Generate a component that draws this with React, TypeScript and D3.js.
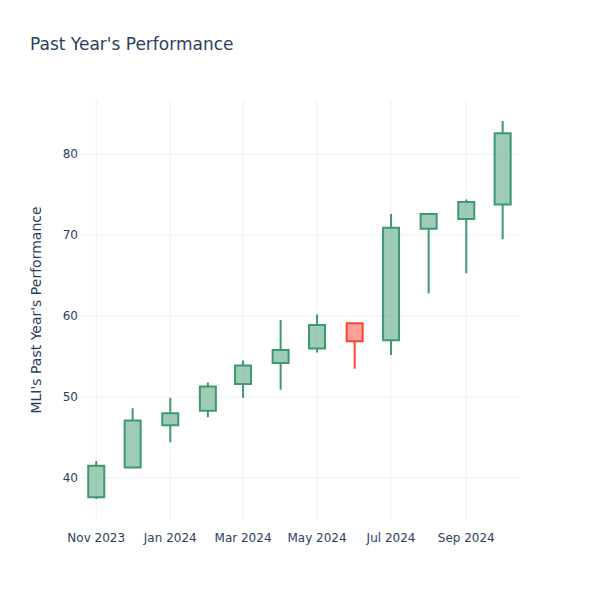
import React from "react";
import * as d3 from "d3";

const dates = ["2023-11-01","2023-12-01","2024-01-01","2024-02-01","2024-03-01","2024-04-01","2024-05-01","2024-06-01","2024-07-01","2024-08-01","2024-09-01","2024-10-01"];
const opens = [37.6, 41.3, 46.5, 48.3, 51.6, 54.2, 56.0, 59.1, 57.0, 70.8, 72.0, 73.8];
const highs = [42.1, 48.6, 49.9, 51.8, 54.5, 59.5, 60.2, 59.1, 72.6, 72.65, 74.4, 84.1];
const lows = [37.4, 41.3, 44.4, 47.5, 49.9, 50.9, 55.5, 53.5, 55.2, 62.8, 65.3, 69.5];
const closes = [41.5, 47.1, 48.0, 51.3, 53.9, 55.8, 58.9, 56.9, 70.9, 72.6, 74.1, 82.6];
const yTicks = [40, 50, 60, 70, 80];

const W = 600, H = 600;
const M = { l: 80, r: 80, t: 100, b: 80 };
const DAY = 86400000;
const font = '"DejaVu Sans", verdana, arial, sans-serif';
const textColor = "#2a3f5f";
const grid = "#EBF0F8";
const INC = "#3D9970", DEC = "#FF4136";

export default function App() {
  const parse = d3.utcParse("%Y-%m-%d");
  const ds = dates.map((d) => parse(d) as Date);
  const first = ds[0].getTime();
  const x = d3
    .scaleUtc()
    .domain([new Date(first - 13.4 * DAY), new Date(first + 349.3 * DAY)])
    .range([M.l, W - M.r]);
  const y = d3.scaleLinear().domain([34.8, 86.7]).range([H - M.b, M.t]);
  const xTicks = x.ticks(d3.utcMonth.every(2) as any);
  const fmt = d3.utcFormat("%b %Y");
  const half = 6.6 * DAY;

  return (
    <svg width={W} height={H} style={{ position: "absolute", left: 0, top: 0, background: "#fff" }}>
      <rect x={0} y={0} width={W} height={H} fill="#fff" />
      {xTicks.map((t, i) => (
        <line key={"gx" + i} x1={x(t)} x2={x(t)} y1={M.t} y2={H - M.b} stroke={grid} strokeWidth={1} />
      ))}
      {yTicks.map((t, i) => (
        <line key={"gy" + i} x1={M.l} x2={W - M.r} y1={y(t)} y2={y(t)} stroke={grid} strokeWidth={1} />
      ))}
      {ds.map((d, i) => {
        const o = opens[i], c = closes[i], h = highs[i], l = lows[i];
        const inc = c >= o;
        const col = inc ? INC : DEC;
        const fill = inc ? "rgba(61,153,112,0.5)" : "rgba(255,65,54,0.5)";
        const cx = x(d);
        const x0 = x(new Date(d.getTime() - half));
        const x1 = x(new Date(d.getTime() + half));
        const top = y(Math.max(o, c));
        const bot = y(Math.min(o, c));
        const path = `M${x0},${top}H${x1}V${bot}H${x0}Z M${cx},${top}V${y(h)} M${cx},${bot}V${y(l)}`;
        return <path key={"c" + i} d={path} fill={fill} stroke={col} strokeWidth={2} />;
      })}
      {xTicks.map((t, i) => (
        <text key={"xl" + i} x={x(t)} y={H - M.b + 13} dy="0.71em" textAnchor="middle" fontFamily={font} fontSize={12} fill={textColor}>
          {fmt(t)}
        </text>
      ))}
      {yTicks.map((t, i) => (
        <text key={"yl" + i} x={M.l - 2} y={y(t)} dy="0.35em" textAnchor="end" fontFamily={font} fontSize={12} fill={textColor}>
          {t}
        </text>
      ))}
      <text x={30} y={50} fontFamily={font} fontSize={17} fill={textColor}>Past Year's Performance</text>
      <text transform={`translate(41,${(M.t + H - M.b) / 2}) rotate(-90)`} textAnchor="middle" fontFamily={font} fontSize={14} fill={textColor}>
        MLI's Past Year's Performance
      </text>
    </svg>
  );
}
